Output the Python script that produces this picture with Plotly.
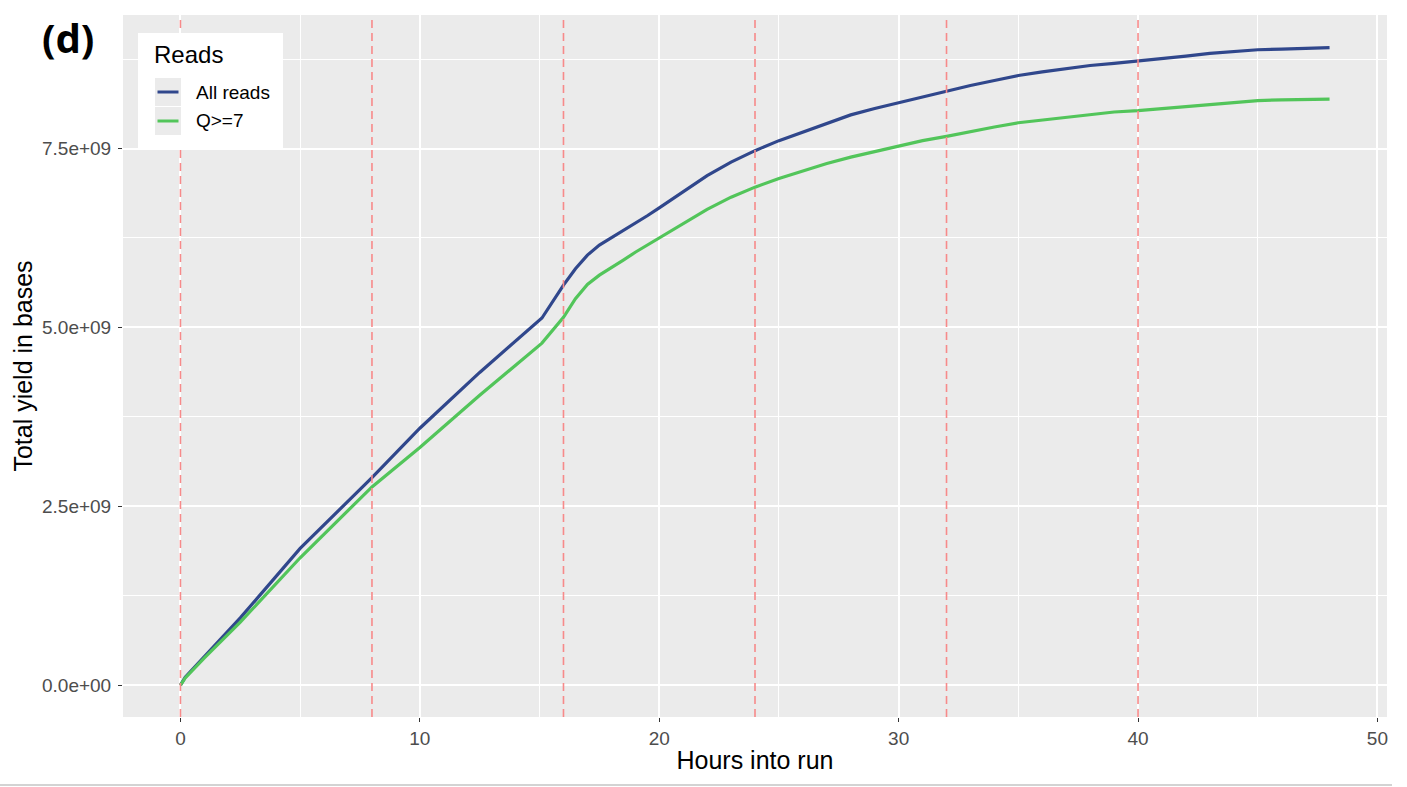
import plotly.graph_objects as go

hours = [0, 0.2, 1, 2.5, 5, 6.5, 8, 10, 12.5, 15.1, 16, 16.5, 17, 17.5, 18, 18.5,
         19, 19.5, 20, 21, 22, 23, 24, 25, 26, 27, 28, 29, 30, 31, 32, 33, 34,
         35, 36, 37, 38, 39, 40, 41, 42, 43, 44, 45, 46, 47, 48]
all_reads = [0, 0.11, 0.40, 0.94, 1.91, 2.41, 2.90, 3.59, 4.37, 5.13, 5.59, 5.82,
             6.01, 6.15, 6.25, 6.35, 6.45, 6.56, 6.67, 6.90, 7.12, 7.31, 7.47,
             7.61, 7.73, 7.85, 7.97, 8.06, 8.14, 8.23, 8.31, 8.38, 8.45, 8.52,
             8.57, 8.62, 8.66, 8.69, 8.72, 8.76, 8.79, 8.83, 8.86, 8.88, 8.89,
             8.90, 8.91]
q7_reads = [0, 0.10, 0.38, 0.88, 1.78, 2.28, 2.77, 3.32, 4.05, 4.78, 5.14, 5.40,
            5.60, 5.73, 5.83, 5.94, 6.05, 6.15, 6.25, 6.45, 6.65, 6.82, 6.96,
            7.08, 7.19, 7.29, 7.38, 7.46, 7.54, 7.61, 7.67, 7.74, 7.80, 7.86,
            7.90, 7.94, 7.98, 8.01, 8.03, 8.06, 8.09, 8.12, 8.15, 8.17, 8.18,
            8.19, 8.19]
all_reads = [v * 1e9 for v in all_reads]
q7_reads = [v * 1e9 for v in q7_reads]
series_names = ["All reads", "Q>=7"]
series_colors = ["#30478c", "#52c55a"]
vlines = [0, 8, 16, 24, 32, 40]
y_ticks = [0, 2.5e9, 5e9, 7.5e9]
y_ticklabels = ["0.0e+00", "2.5e+09", "5.0e+09", "7.5e+09"]
x_ticks = [0, 10, 20, 30, 40, 50]

# plot-area geometry in pixels (for paper-coordinate conversion of decorations)
L, R, T, B, W, H = 123, 20, 15, 70, 1407, 787
PW, PH = W - L - R, H - T - B
def px(xp):
    return (xp - L) / PW
def py(yp):
    return (H - B - yp) / PH

fig = go.Figure()
for name, ys, col in zip(series_names, [all_reads, q7_reads], series_colors):
    fig.add_trace(go.Scatter(x=hours, y=ys, mode="lines", name=name,
                             line=dict(color=col, width=3.2), showlegend=False))

for v in vlines:
    fig.add_shape(type="line", x0=v, x1=v, y0=0, y1=1, xref="x", yref="paper",
                  line=dict(color="#f78a8a", width=1.6, dash="8px,5px"), layer="above")

# bottom separator line
fig.add_shape(type="line", x0=px(0), x1=px(1392), y0=py(785), y1=py(785),
              xref="paper", yref="paper", line=dict(color="#d3d3d3", width=2))

# legend (ggplot style)
fig.add_shape(type="rect", x0=px(138), x1=px(283), y0=py(148), y1=py(33),
              xref="paper", yref="paper", fillcolor="white", line=dict(width=0),
              layer="above")
fig.add_annotation(text="Reads", x=px(152), y=py(55), xref="paper", yref="paper",
                   showarrow=False, xanchor="left", yanchor="middle",
                   font=dict(family="Liberation Sans", size=24, color="black"))
for i, (name, col) in enumerate(zip(series_names, series_colors)):
    yc = 92 + 29 * i
    fig.add_shape(type="rect", x0=px(155), x1=px(181), y0=py(yc + 14), y1=py(yc - 14),
                  xref="paper", yref="paper", fillcolor="#ebebeb", line=dict(width=0),
                  layer="above")
    fig.add_shape(type="line", x0=px(157.5), x1=px(178.5), y0=py(yc), y1=py(yc),
                  xref="paper", yref="paper", line=dict(color=col, width=3),
                  layer="above")
    fig.add_annotation(text=name, x=px(194), y=py(yc), xref="paper", yref="paper",
                       showarrow=False, xanchor="left", yanchor="middle",
                       font=dict(family="Liberation Sans", size=19, color="black"))

fig.add_annotation(text="<b>(d)</b>", x=px(68), y=py(37), xref="paper", yref="paper",
                   showarrow=False, xanchor="center", yanchor="middle",
                   font=dict(family="Noto Sans", size=40, color="black"))

fig.update_layout(
    width=W, height=H,
    margin=dict(l=L, r=R, t=T, b=B),
    paper_bgcolor="white",
    plot_bgcolor="#ebebeb",
    font=dict(family="Liberation Sans", color="#4d4d4d"),
    showlegend=False,
)
fig.update_xaxes(
    range=[-2.4, 50.4], tickvals=x_ticks, showgrid=True, gridcolor="white", gridwidth=1.6,
    zeroline=False, ticks="outside", ticklen=4, tickcolor="#333333", tickwidth=1.2,
    tickfont=dict(size=19, color="#4d4d4d"),
    minor=dict(tickvals=[5, 15, 25, 35, 45], showgrid=True, gridcolor="white", gridwidth=0.8),
    title=dict(text="Hours into run", font=dict(size=25, color="black"), standoff=3),
)
fig.update_yaxes(
    range=[-0.446e9, 9.366e9], tickvals=y_ticks, ticktext=y_ticklabels,
    showgrid=True, gridcolor="white", gridwidth=1.6,
    zeroline=False, ticks="outside", ticklen=4, tickcolor="#333333", tickwidth=1.2,
    tickfont=dict(size=19, color="#4d4d4d"), ticklabelstandoff=3,
    minor=dict(tickvals=[1.25e9, 3.75e9, 6.25e9, 8.75e9], showgrid=True,
               gridcolor="white", gridwidth=0.8),
    title=dict(text="Total yield in bases", font=dict(size=25, color="black"), standoff=2),
)

fig.write_html("out.html")
